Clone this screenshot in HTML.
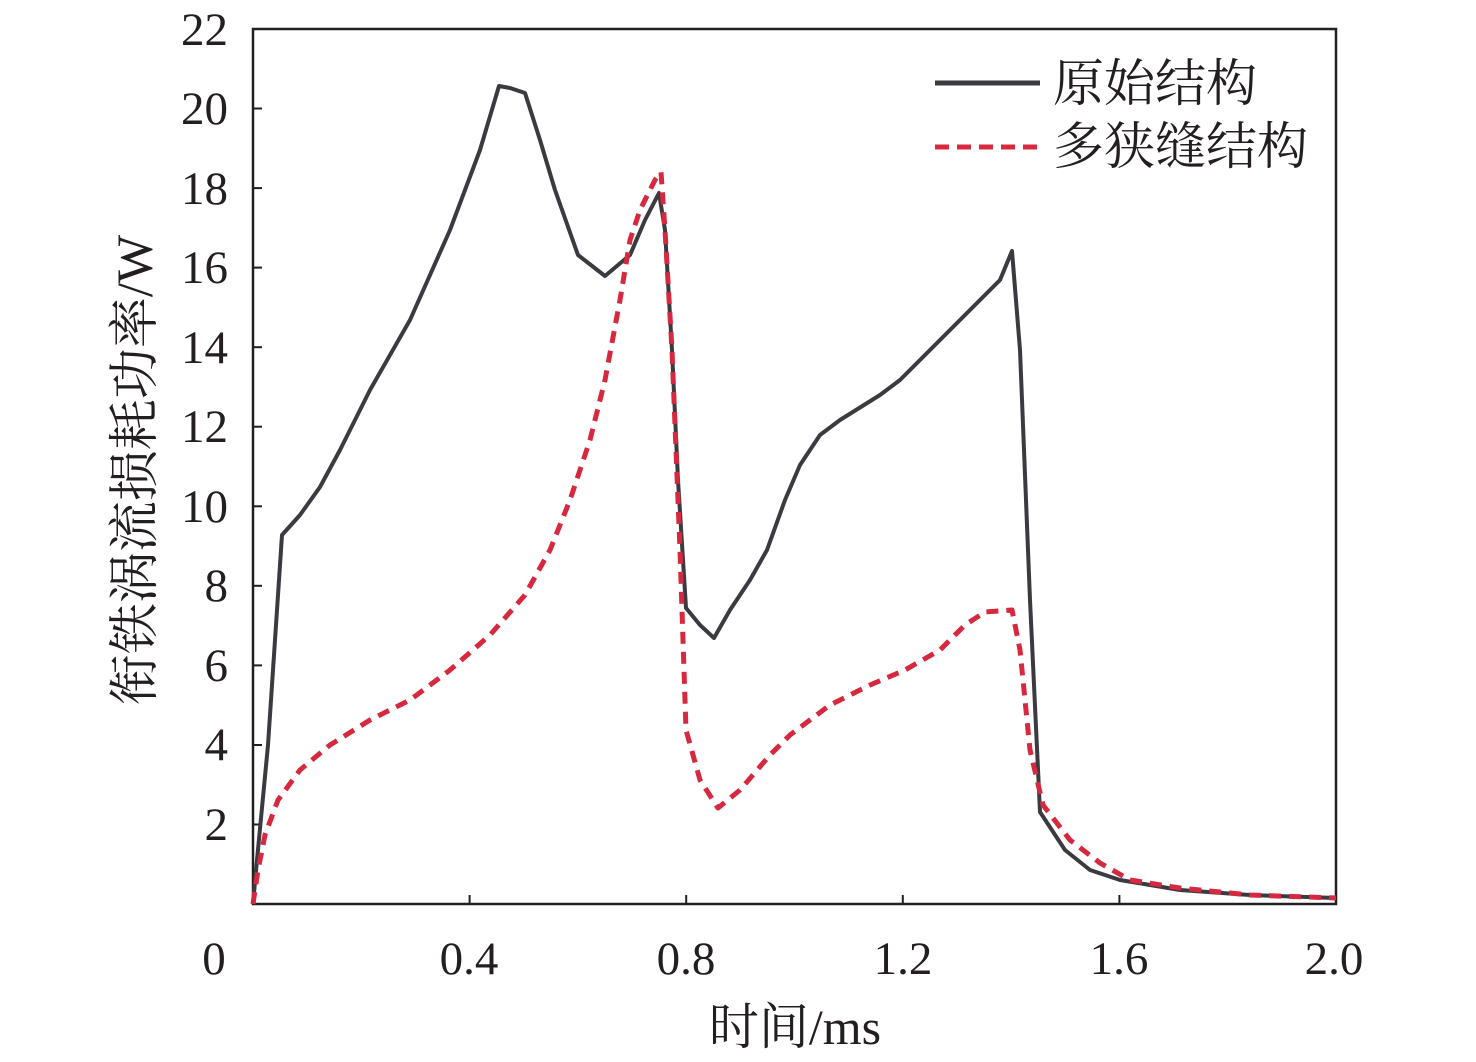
<!DOCTYPE html>
<html><head><meta charset="utf-8"><style>
html,body{margin:0;padding:0;background:#fff;}
svg{display:block;}
text{font-family:"Liberation Serif","Noto Serif CJK SC",serif;fill:#231f20;}
</style></head><body>
<svg width="1476" height="1062" viewBox="0 0 1476 1062" xmlns="http://www.w3.org/2000/svg">
<rect x="253" y="29" width="1083" height="875" fill="none" stroke="#231f20" stroke-width="2.5"/>
<g stroke="#231f20" stroke-width="2">
<line x1="253" y1="824.5" x2="262" y2="824.5"/><line x1="253" y1="745" x2="262" y2="745"/>
<line x1="253" y1="665.4" x2="262" y2="665.4"/><line x1="253" y1="585.8" x2="262" y2="585.8"/>
<line x1="253" y1="506.3" x2="262" y2="506.3"/><line x1="253" y1="426.7" x2="262" y2="426.7"/>
<line x1="253" y1="347.2" x2="262" y2="347.2"/><line x1="253" y1="267.6" x2="262" y2="267.6"/>
<line x1="253" y1="188.1" x2="262" y2="188.1"/><line x1="253" y1="108.5" x2="262" y2="108.5"/>
<line x1="469.6" y1="904" x2="469.6" y2="895"/><line x1="686.2" y1="904" x2="686.2" y2="895"/>
<line x1="902.8" y1="904" x2="902.8" y2="895"/><line x1="1119.4" y1="904" x2="1119.4" y2="895"/>
</g>
<g font-size="47" text-anchor="end">
<text x="228" y="45">22</text><text x="228" y="124">20</text><text x="228" y="204">18</text>
<text x="228" y="283">16</text><text x="228" y="363">14</text><text x="228" y="442">12</text>
<text x="228" y="522">10</text><text x="228" y="601">8</text><text x="228" y="681">6</text>
<text x="228" y="760">4</text><text x="228" y="840">2</text>
</g>
<g font-size="47" text-anchor="middle">
<text x="214" y="974">0</text><text x="469" y="974">0.4</text><text x="686" y="974">0.8</text>
<text x="903" y="974">1.2</text><text x="1119" y="974">1.6</text><text x="1334" y="974">2.0</text>
</g>
<text x="795" y="1044" font-size="50" text-anchor="middle">时间/ms</text>
<text transform="translate(152,470) rotate(-90)" font-size="51" text-anchor="middle">衔铁涡流损耗功率/W</text>
<polyline fill="none" stroke="#3a3a40" stroke-width="4" stroke-linejoin="round" points="253,904 257,860 268,745 282,535 300,515 320,487 340,450 370,390 410,320 450,230 480,150 499,86 510,88 525,93 540,140 555,190 578,255 605,276 630,255 645,220 659,193 665,230 672,350 678,480 686,608 700,625 714,638 730,610 750,580 767,550 785,500 800,465 820,435 840,420 880,395 900,380 935,345 970,310 1000,280 1012,251 1020,350 1030,600 1040,812 1065,850 1090,870 1120,880 1180,890 1250,895 1336,898"/>
<polyline fill="none" stroke="#d6283e" stroke-width="5" stroke-dasharray="12,8" stroke-linejoin="round" points="253,904 258,870 265,835 278,800 300,770 330,745 370,720 410,700 450,670 490,635 525,595 550,550 570,500 590,440 605,380 620,300 630,240 640,210 655,180 661,172 665,230 672,350 680,550 686,730 700,780 718,808 740,790 770,755 790,735 830,705 870,685 905,670 940,650 965,625 985,612 1012,610 1020,650 1030,750 1043,805 1070,840 1100,863 1130,880 1180,888 1250,895 1336,898"/>
<line x1="935" y1="83" x2="1040" y2="83" stroke="#3a3a40" stroke-width="5"/>
<line x1="935" y1="147" x2="1040" y2="147" stroke="#d6283e" stroke-width="5" stroke-dasharray="14,8"/>
<text x="1053" y="101" font-size="51">原始结构</text>
<text x="1053" y="164" font-size="51">多狭缝结构</text>
</svg>
</body></html>
